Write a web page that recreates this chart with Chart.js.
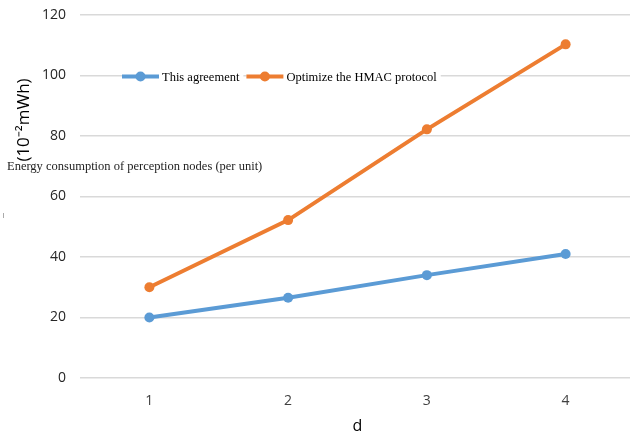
<!DOCTYPE html>
<html>
<head>
<meta charset="utf-8">
<script src="https://cdn.jsdelivr.net/npm/chart.js@4"></script>
<style>
  html, body { margin: 0; padding: 0; background: #fff; overflow: hidden; }
  #wrap { width: 630px; height: 437px; overflow: hidden; }
</style>
</head>
<body>
<div id="wrap"><canvas id="c" width="640" height="437"></canvas></div>
<script>
'use strict'

const categories = ['1', '2', '3', '4']
const thisAgreement = [20, 26.5, 34, 41]
const hmacProtocol = [30, 52.2, 82.2, 110.3]
const seriesNames = ['This agreement', 'Optimize the HMAC protocol']
const yTitle = '(10\u207B\u00B2mWh)'
const yCaption = 'Energy consumption of perception nodes (per unit)'
const xTitle = 'd'

// legend sits inside the plot, over the 100 gridline, and the odd captions on the left
const extras = {
  id: 'extras',
  afterDraw (chart) {
    const ctx = chart.ctx
    const y = chart.scales.y.getPixelForValue(100)
    ctx.save()
    ctx.font = '12.5px "Liberation Serif", serif'
    ctx.textBaseline = 'middle'
    let x = 122
    chart.data.datasets.forEach((ds, i) => {
      const w = ctx.measureText(ds.label).width
      ctx.fillStyle = '#fff'
      ctx.fillRect(x, y - 8, 40 + w + 4, 16)
      ctx.strokeStyle = ds.borderColor
      ctx.lineWidth = 4
      ctx.beginPath()
      ctx.moveTo(x, y + 1)
      ctx.lineTo(x + 37, y + 1)
      ctx.stroke()
      ctx.fillStyle = ds.borderColor
      ctx.beginPath()
      ctx.arc(x + 18.5, y + 1, 5, 0, Math.PI * 2)
      ctx.fill()
      ctx.fillStyle = '#000'
      ctx.textAlign = 'left'
      ctx.fillText(ds.label, x + 40, y + 2)
      x += 40 + w + 7
    })

    ctx.fillStyle = '#222'
    ctx.font = '12.5px "Liberation Serif", serif'
    ctx.fillText(yCaption, 7, 167)

    ctx.translate(24, 120)
    ctx.rotate(-Math.PI / 2)
    ctx.textAlign = 'center'
    ctx.font = '17px "Open Sans", sans-serif'
    ctx.fillStyle = '#000'
    ctx.fillText(yTitle, 0, 0)
    ctx.restore()

    ctx.save()
    ctx.strokeStyle = '#aaa'
    ctx.lineWidth = 1
    ctx.beginPath()
    ctx.moveTo(3.5, 213)
    ctx.lineTo(3.5, 218)
    ctx.stroke()
    ctx.restore()
  }
}

new Chart(document.getElementById('c'), {
  type: 'line',
  data: {
    labels: categories,
    datasets: [
      {
        label: seriesNames[0],
        data: thisAgreement,
        borderColor: '#5B9BD5',
        backgroundColor: '#5B9BD5',
        borderWidth: 4,
        pointRadius: 5,
        pointBorderWidth: 0
      },
      {
        label: seriesNames[1],
        data: hmacProtocol,
        borderColor: '#ED7D31',
        backgroundColor: '#ED7D31',
        borderWidth: 4,
        pointRadius: 5,
        pointBorderWidth: 0
      }
    ]
  },
  options: {
    responsive: false,
    animation: false,
    layout: { padding: { top: 15, right: 0, left: 0, bottom: 0 } },
    plugins: {
      legend: { display: false },
      tooltip: { enabled: false }
    },
    scales: {
      x: {
        offset: true,
        grid: { display: false },
        border: { display: false },
        ticks: {
          color: '#404040',
          font: { family: '"Open Sans", sans-serif', size: 14 },
          padding: 7
        },
        title: {
          display: true,
          text: xTitle,
          color: '#000',
          font: { family: '"Open Sans", sans-serif', size: 16 },
          padding: { top: 2, bottom: 1 }
        },
        afterFit (axis) { axis.height = 59 }
      },
      y: {
        min: 0,
        max: 120,
        ticks: {
          stepSize: 20,
          color: '#262626',
          font: { family: '"Open Sans", sans-serif', size: 14 },
          padding: 0
        },
        grid: {
          color: '#d9d9d9',
          lineWidth: 1.5,
          drawTicks: true,
          tickLength: 14,
          tickColor: 'rgba(0,0,0,0)'
        },
        border: { display: false },
        afterFit (axis) { axis.width = 80 }
      }
    }
  },
  plugins: [extras]
})
</script>
</body>
</html>
